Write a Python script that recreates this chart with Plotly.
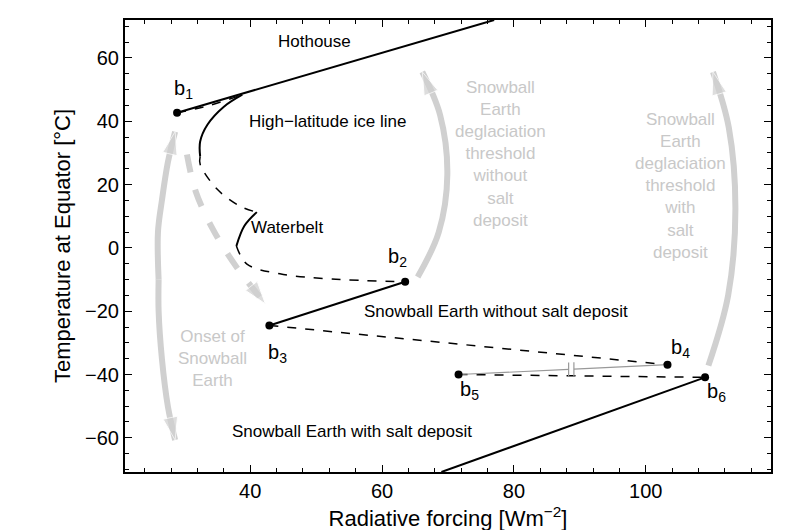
import plotly.graph_objects as go

# branch curves (radiative forcing, temperature)
hot_x = [28.9, 77.0]
hot_y = [42.7, 72.0]
ice_dash_x = [28.9, 33.8, 38.8]
ice_dash_y = [42.7, 45.0, 48.4]
ice_x = [38.8, 36.0, 33.5, 32.4, 32.4]
ice_y = [48.4, 44.6, 38.9, 33.6, 28.9]
unst1_x = [32.4, 32.4, 35.0, 38.5, 41.0]
unst1_y = [28.9, 26.4, 18.5, 13.1, 11.3]
wb_x = [41.0, 39.1, 37.9]
wb_y = [11.3, 6.9, 0.6]
unst2_x = [37.9, 39.5, 44.5, 52.2, 63.5]
unst2_y = [0.6, -5.1, -8.2, -9.8, -10.7]
sb_x = [42.9, 63.5]
sb_y = [-24.5, -10.7]
unst3_x = [42.9, 103.3]
unst3_y = [-24.5, -36.9]
unst4_x = [71.6, 109.0]
unst4_y = [-40.0, -40.9]
salt_x = [69.0, 109.0]
salt_y = [-70.8, -40.9]
pts_x = [28.9, 63.5, 42.9, 103.3, 71.6, 109.0]
pts_y = [42.7, -10.7, -24.5, -36.9, -40.0, -40.9]
pt_names = ["b<sub>1</sub>", "b<sub>2</sub>", "b<sub>3</sub>", "b<sub>4</sub>", "b<sub>5</sub>", "b<sub>6</sub>"]
lab_x = [29.8, 62.3, 44.1, 105.2, 73.3, 110.7]
lab_y = [50.0, -3.0, -33.4, -31.8, -45.0, -45.7]

BLACK = "black"
GREY = "#d0d0d0"
fig = go.Figure()

def line(x, y, dash="solid", color=BLACK, width=2):
    fig.add_trace(go.Scatter(x=x, y=y, mode="lines", line=dict(color=color, width=width, dash=dash, shape="spline"), hoverinfo="skip"))

def arrow(x, y, dash="solid"):
    sizes = [0] * (len(x) - 1) + [24]
    fig.add_trace(go.Scatter(x=x, y=y, mode="lines+markers", line=dict(color=GREY, width=6, dash=dash, shape="spline"),
                             marker=dict(symbol="arrow", size=sizes, color=GREY, angleref="previous"), hoverinfo="skip"))

# grey arrows
arrow([26.1, 26.0, 26.6, 27.5, 28.6], [-10, 5, 15, 27, 36.7])
arrow([26.1, 26.1, 26.6, 27.5, 28.6], [-10, -20, -35, -50, -60.7])
arrow([30.4, 31.7, 34.3, 37.9, 42.3], [29.5, 18, 6, -6, -17.7], dash="dash")
arrow([65.4, 68.6, 69.9, 68.8, 66.1], [-9.2, 5, 23.2, 42, 55.6])
arrow([109.5, 112.5, 113.6, 112.6, 110.2], [-37.2, -15, 12.2, 38, 55.6])

line(hot_x, hot_y)
line(ice_dash_x, ice_dash_y, dash="dash", width=1.5)
line(ice_x, ice_y)
line(unst1_x, unst1_y, dash="dash", width=1.5)
line(wb_x, wb_y)
line(unst2_x, unst2_y, dash="dash", width=1.5)
line(sb_x, sb_y)
line(unst3_x, unst3_y, dash="dash", width=1.5)
line(unst4_x, unst4_y, dash="dash", width=1.5)
line(salt_x, salt_y)
# thin grey connection b5-b4 with break
line([71.6, 88.3], [-40.0, -38.4], color="#999999", width=1.2)
line([89.1, 103.3], [-38.3, -36.9], color="#999999", width=1.2)
fig.add_trace(go.Scatter(x=[88.3, 89.1], y=[-38.4, -38.3], mode="markers",
                         marker=dict(symbol="line-ns", size=10, line=dict(color="#999999", width=1.2)), hoverinfo="skip"))
fig.add_trace(go.Scatter(x=pts_x, y=pts_y, mode="markers", marker=dict(color=BLACK, size=8), hoverinfo="skip"))

ann = [
    ("Hothouse", 49.7, 65.3, BLACK), ("High\u2212latitude ice line", 51.7, 40.0, BLACK),
    ("Waterbelt", 45.6, 6.5, BLACK), ("Snowball Earth without salt deposit", 77.3, -20.0, BLACK),
    ("Snowball Earth with salt deposit", 55.5, -58.0, BLACK),
    ("Snowball<br>Earth<br>deglaciation<br>threshold<br>without<br>salt<br>deposit", 77.9, 29.8, "#c8c8c8"),
    ("Snowball<br>Earth<br>deglaciation<br>threshold<br>with<br>salt<br>deposit", 105.2, 19.7, "#c8c8c8"),
    ("Onset of<br>Snowball<br>Earth", 34.2, -35.0, "#c8c8c8"),
]
for t, x, y, c in ann:
    fig.add_annotation(x=x, y=y, text=t, showarrow=False, font=dict(size=17, color=c))
for t, x, y in zip(pt_names, lab_x, lab_y):
    fig.add_annotation(x=x, y=y, text=t, showarrow=False, font=dict(size=20, color=BLACK))

ax = dict(showline=True, linecolor=BLACK, linewidth=2, mirror="ticks", ticks="inside", ticklen=7,
          tickcolor=BLACK, showgrid=False, zeroline=False, tickfont=dict(size=20, color=BLACK))
fig.update_layout(
    width=800, height=530, showlegend=False, plot_bgcolor="white", paper_bgcolor="white",
    font=dict(family="Liberation Sans, Arial, sans-serif", color=BLACK),
    margin=dict(l=117, r=37, t=10, b=66),
    xaxis=dict(ax, range=[21, 119], dtick=20, minor=dict(ticks="inside", ticklen=4, tickcolor=BLACK, dtick=4),
               title=dict(text="Radiative forcing [Wm<sup>\u22122</sup>]", font=dict(size=22), standoff=10)),
    yaxis=dict(ax, range=[-70.8, 72], dtick=20, minor=dict(ticks="inside", ticklen=4, tickcolor=BLACK, dtick=5),
               title=dict(text="Temperature at Equator [\u00b0C]", font=dict(size=22), standoff=8)),
)
fig.write_html("out.html")
